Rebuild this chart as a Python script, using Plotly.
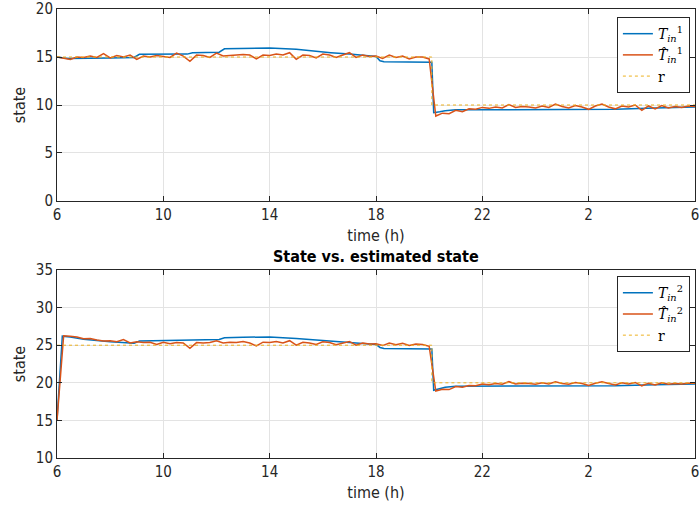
import plotly.graph_objects as go
from plotly.subplots import make_subplots

# ---------------- data ----------------
t_est = [6 + 0.25 * i for i in range(97)]

# top panel: true state T_in^1 (piecewise, read at breakpoints)
t_true1 = [6.0, 6.4, 8.0, 8.9, 9.1, 10.9, 11.1, 12.1, 12.3, 13.0, 14.0, 15.0, 15.5, 16.3,
           17.0, 18.0, 18.15, 18.3, 20.1, 20.17, 20.4, 20.6, 21.0, 24.0, 27.0, 28.5, 30.0]
v_true1 = [15.0, 14.85, 14.9, 14.95, 15.28, 15.3, 15.45, 15.5, 15.85, 15.9, 15.95, 15.8, 15.65, 15.45,
           15.3, 15.05, 14.6, 14.5, 14.45, 9.2, 9.3, 9.4, 9.5, 9.5, 9.55, 9.7, 9.8]

# top panel: estimated state
v_est1 = [15.0, 14.9, 14.75, 15.0, 14.95, 15.1, 14.95, 15.35, 14.9, 15.15,
          15.0, 15.2, 14.75, 15.1, 15.0, 15.15, 15.05, 14.95, 15.4, 15.1,
          14.55, 15.2, 15.15, 14.95, 15.4, 15.1, 15.15, 15.2, 15.25, 15.2,
          14.8, 15.2, 15.15, 15.3, 15.2, 15.45, 14.75, 15.2, 15.15, 14.9,
          15.3, 15.2, 14.95, 15.2, 15.45, 14.95, 15.2, 15.05, 15.1, 14.85,
          15.2, 14.95, 15.1, 14.8, 15.0, 15.0, 14.8, 8.85, 9.15, 9.1,
          9.45, 9.3, 9.6, 9.55, 9.75, 9.65, 9.8, 9.7, 10.05, 9.75,
          9.85, 9.8, 9.7, 9.9, 9.75, 10.1, 9.85, 9.7, 9.95, 9.8,
          9.55, 9.9, 10.1, 9.8, 9.6, 9.9, 9.8, 10.0, 9.45, 9.9,
          9.6, 9.95, 9.7, 9.85, 9.75, 9.9, 9.85]

# bottom panel: true state T_in^2
t_true2 = [6.0, 6.2, 6.5, 7.0, 8.0, 8.9, 9.1, 10.9, 11.1, 12.1, 12.3, 13.0, 14.0, 15.0,
           16.0, 17.0, 18.0, 18.15, 18.3, 20.1, 20.17, 20.4, 20.6, 21.0, 24.0, 27.0, 28.5, 30.0]
v_true2 = [15.0, 26.2, 26.1, 25.8, 25.45, 25.25, 25.55, 25.6, 25.7, 25.75, 26.0, 26.05, 26.1, 25.9,
           25.6, 25.35, 25.1, 24.7, 24.55, 24.5, 19.0, 19.2, 19.4, 19.55, 19.55, 19.6, 19.75, 19.85]

# bottom panel: estimated state
v_est2 = [15.0, 26.25, 26.2, 26.1, 25.85, 25.9, 25.7, 25.55, 25.6, 25.45,
          25.75, 25.3, 25.45, 25.35, 25.4, 25.1, 25.4, 25.2, 25.35, 25.3,
          24.6, 25.35, 25.3, 25.35, 25.6, 25.3, 25.4, 25.35, 25.5, 25.3,
          24.9, 25.4, 25.35, 25.5, 25.3, 25.6, 25.0, 25.4, 25.3, 25.1,
          25.45, 25.35, 25.05, 25.3, 25.5, 25.0, 25.3, 25.15, 25.2, 24.95,
          25.3, 25.05, 25.25, 24.95, 25.15, 25.1, 24.85, 18.9, 19.15, 19.1,
          19.5, 19.4, 19.65, 19.6, 19.85, 19.75, 19.9, 19.8, 20.15, 19.85,
          19.95, 19.9, 19.8, 20.0, 19.85, 20.15, 19.9, 19.8, 20.05, 19.9,
          19.65, 19.95, 20.15, 19.9, 19.7, 20.0, 19.85, 20.05, 19.6, 19.95,
          19.7, 20.0, 19.8, 19.9, 19.85, 19.95, 19.95]

# reference
t_ref = [6.0, 20.1, 20.1, 30.0]
r1 = [15, 15, 10, 10]
r2 = [25, 25, 20, 20]

x_tickvals = [6, 10, 14, 18, 22, 26, 30]
x_ticktext = ["6", "10", "14", "18", "22", "2", "6"]

# ---------------- figure ----------------
BLUE = "#0072BD"
ORANGE = "#D95319"
YELLOW = "#EDB120"
AX = "#262626"
GRID = "#e3e3e3"
SANS = "DejaVu Sans Condensed, Liberation Sans, Arial"

fig = make_subplots(rows=2, cols=1)

fig.add_trace(go.Scatter(x=t_true1, y=v_true1, mode="lines", line=dict(color=BLUE, width=1.5),
                         name="<i>T</i><sub><i>in</i></sub><sup>1</sup>", legend="legend"), row=1, col=1)
fig.add_trace(go.Scatter(x=t_est, y=v_est1, mode="lines", line=dict(color=ORANGE, width=1.5),
                         name="<i>T\u0302</i><sub><i>in</i></sub><sup>1</sup>", legend="legend"), row=1, col=1)
fig.add_trace(go.Scatter(x=t_ref, y=r1, mode="lines", line=dict(color=YELLOW, width=1, dash="dot"),
                         name="r", legend="legend"), row=1, col=1)

fig.add_trace(go.Scatter(x=t_true2, y=v_true2, mode="lines", line=dict(color=BLUE, width=1.5),
                         name="<i>T</i><sub><i>in</i></sub><sup>2</sup>", legend="legend2"), row=2, col=1)
fig.add_trace(go.Scatter(x=t_est, y=v_est2, mode="lines", line=dict(color=ORANGE, width=1.5),
                         name="<i>T\u0302</i><sub><i>in</i></sub><sup>2</sup>", legend="legend2"), row=2, col=1)
fig.add_trace(go.Scatter(x=t_ref, y=r2, mode="lines", line=dict(color=YELLOW, width=1, dash="dot"),
                         name="r", legend="legend2"), row=2, col=1)

axis_common = dict(showline=True, linecolor=AX, linewidth=1, mirror="allticks", ticks="inside",
                   ticklen=5, tickcolor=AX, showgrid=True, gridcolor=GRID, gridwidth=1,
                   zeroline=False, tickfont=dict(family=SANS, size=15, color=AX),
                   automargin=False, ticklabeloverflow="allow")

for r in (1, 2):
    fig.update_xaxes(range=[6, 30], tickvals=x_tickvals, ticktext=x_ticktext,
                     title=dict(text="time (h)", font=dict(family=SANS, size=16, color=AX), standoff=6),
                     row=r, col=1, **axis_common)

fig.update_yaxes(range=[0, 20], tickvals=[0, 5, 10, 15, 20], domain=[0.5724, 1.0],
                 title=dict(text="state", font=dict(family=SANS, size=16, color=AX), standoff=6),
                 row=1, col=1, **axis_common)
fig.update_yaxes(range=[10, 35], tickvals=[10, 15, 20, 25, 30, 35], domain=[0.0, 0.4187],
                 title=dict(text="state", font=dict(family=SANS, size=16, color=AX), standoff=6),
                 row=2, col=1, **axis_common)

legend_common = dict(bgcolor="white", bordercolor=AX, borderwidth=1,
                     font=dict(family="DejaVu Serif, Liberation Serif", size=14, color="black"),
                     xanchor="right", yanchor="top", tracegroupgap=0, itemwidth=30)

fig.update_layout(
    width=700, height=510,
    margin=dict(l=57, r=5, t=9, b=52),
    paper_bgcolor="white", plot_bgcolor="white",
    showlegend=True,
    legend=dict(x=0.992, y=0.982, **legend_common),
    legend2=dict(x=0.992, y=0.405, **legend_common),
    annotations=[dict(text="<b>State vs. estimated state</b>", xref="paper", yref="paper",
                      x=0.5, y=0.4187, yanchor="bottom", yshift=2, showarrow=False,
                      font=dict(family=SANS, size=16, color="black"))],
)

fig.write_html("out.html")
